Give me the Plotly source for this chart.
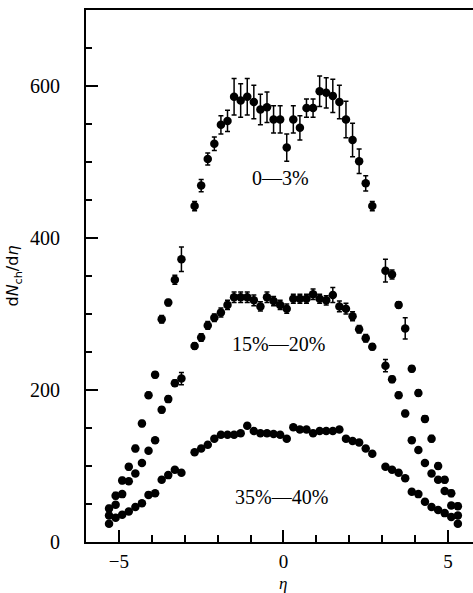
import plotly.graph_objects as go

# pseudorapidity grid
eta = [-5.3, -5.1, -4.9, -4.7, -4.5, -4.3, -4.1, -3.9, -3.7, -3.5, -3.3, -3.1,
       -2.7, -2.5, -2.3, -2.1, -1.9, -1.7, -1.5, -1.3, -1.1, -0.9, -0.7, -0.5, -0.3, -0.1,
       0.1, 0.3, 0.5, 0.7, 0.9, 1.1, 1.3, 1.5, 1.7, 1.9, 2.1, 2.3, 2.5, 2.7,
       3.1, 3.3, 3.5, 3.7, 3.9, 4.1, 4.3, 4.5, 4.7, 4.9, 5.1, 5.3]

# 0-3% centrality
c0_3 = [44, 61, 81, 99, 123, 156, 193, 220, 293, 315, 345, 372,
        442, 469, 504, 524, 549, 554, 586, 581, 586, 579, 569, 572, 556, 556,
        519, 556, 545, 571, 571, 593, 591, 587, 579, 556, 529, 501, 472, 442,
        357, 352, 312, 281, 228, 196, 162, 136, 100, 82, 64, 47]
e0_3 = [4, 4, 4, 4, 4, 4, 4, 4, 5, 4, 6, 16,
        6, 8, 8, 9, 12, 14, 24, 22, 24, 22, 20, 20, 18, 18,
        18, 18, 16, 12, 12, 20, 20, 22, 22, 24, 22, 16, 10, 6,
        15, 6, 4, 14, 4, 4, 4, 4, 4, 4, 4, 4]

# 15-20% centrality
c15_20 = [35, 49, 63, 80, 90, 104, 120, 134, 174, 188, 209, 215,
          258, 269, 285, 295, 302, 312, 322, 322, 322, 318, 310, 322, 317, 312,
          307, 320, 320, 320, 326, 320, 318, 325, 310, 307, 297, 280, 268, 257,
          232, 214, 193, 169, 134, 121, 104, 90, 82, 67, 48, 35]
e15_20 = [3, 3, 3, 3, 3, 3, 3, 3, 4, 4, 4, 8,
          4, 5, 5, 5, 6, 6, 7, 7, 7, 7, 6, 7, 6, 6,
          6, 6, 6, 6, 7, 6, 6, 10, 7, 7, 6, 5, 5, 4,
          8, 4, 4, 4, 3, 3, 3, 3, 3, 3, 3, 3]

# 35-40% centrality
c35_40 = [24, 32, 36, 40, 46, 51, 62, 64, 82, 88, 95, 91,
          118, 123, 128, 136, 141, 141, 141, 143, 153, 146, 143, 143, 142, 141,
          136, 151, 148, 148, 143, 146, 146, 146, 148, 136, 133, 131, 123, 116,
          99, 95, 91, 84, 66, 63, 53, 46, 42, 38, 33, 24]
e35_40 = [3, 3, 3, 3, 3, 3, 3, 3, 3, 3, 3, 3,
          3, 3, 3, 3, 3, 3, 3, 3, 3, 3, 3, 3, 3, 3,
          3, 3, 3, 3, 3, 3, 3, 3, 3, 3, 3, 3, 3, 3,
          3, 3, 3, 3, 3, 3, 3, 3, 3, 3, 3, 3]

labels = ["0\u20143%", "15%\u201420%", "35%\u201440%"]
label_pos = [(-0.09, 479), (-0.15, 260), (-0.06, 59)]

fig = go.Figure()
for vals, errs in [(c0_3, e0_3), (c15_20, e15_20), (c35_40, e35_40)]:
    fig.add_trace(go.Scatter(
        x=eta, y=vals, mode="markers",
        marker=dict(color="black", size=8.5, symbol="circle"),
        error_y=dict(type="data", array=errs, visible=True, color="black",
                     thickness=1.5, width=2.5),
        showlegend=False))

for txt, (lx, ly) in zip(labels, label_pos):
    fig.add_annotation(x=lx, y=ly, text=txt, showarrow=False,
                       font=dict(family="Liberation Serif", size=20, color="black"))

serif = "Liberation Serif"
# x-axis title placed below the tick labels
fig.add_annotation(x=(283 - 86) / 387, xref="paper",
                   y=-(583 - 542) / 532, yref="paper", yanchor="middle",
                   text="<i>η</i>", showarrow=False,
                   font=dict(family=serif, size=17, color="black"))

fig.update_layout(
    width=473, height=593,
    margin=dict(l=86, r=0, t=10, b=51),
    paper_bgcolor="white", plot_bgcolor="white",
    font=dict(family=serif, size=20, color="black"),
)
fig.update_xaxes(
    range=[-6, 5.76], tickmode="linear", tick0=0, dtick=5,
    showgrid=False, zeroline=False,
    showline=True, linecolor="black", linewidth=2, mirror=True,
    ticks="inside", ticklen=12, tickwidth=1.5, tickcolor="black",
    tickfont=dict(family=serif, size=19, color="black"),
    ticklabelstandoff=1,
    minor=dict(dtick=1, ticks="inside", ticklen=7, tickwidth=1.5, tickcolor="black"),
)
fig.update_yaxes(
    range=[0, 700], tickmode="linear", tick0=0, dtick=200,
    showgrid=False, zeroline=False,
    showline=True, linecolor="black", linewidth=2,
    ticks="inside", ticklen=12, tickwidth=1.5, tickcolor="black",
    tickfont=dict(family=serif, size=20, color="black"),
    ticklabelstandoff=20,
    minor=dict(dtick=50, ticks="inside", ticklen=6, tickwidth=1.5, tickcolor="black"),
    title=dict(text="d<i>N</i><sub>ch</sub>/d<i>η</i>",
               font=dict(family="DejaVu Sans", size=16, color="black"), standoff=7),
)

fig.write_html("out.html")
